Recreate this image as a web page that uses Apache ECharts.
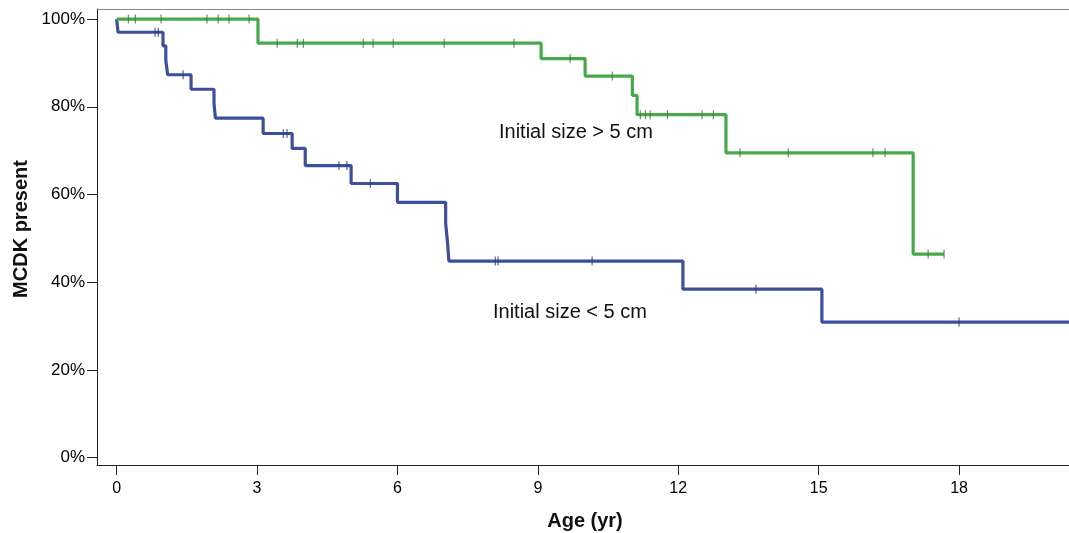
<!DOCTYPE html>
<html>
<head>
<meta charset="utf-8">
<script src="https://cdn.jsdelivr.net/npm/echarts@6/dist/echarts.min.js"></script>
<style>
html,body{margin:0;padding:0;background:#fff;}
#c{width:1069px;height:533px;}
</style>
</head>
<body>
<div id="c"></div>
<script>
// Kaplan-Meier data
const xTicks = [0, 3, 6, 9, 12, 15, 18];
const yTicks = [0, 20, 40, 60, 80, 100];

// Initial size > 5 cm (green)
const bigTimes = [0, 3.02, 9.07, 10.01, 11.02, 11.12, 13.02, 17.02, 17.68];
const bigSurv  = [100, 94.5, 91.0, 87.0, 82.6, 78.2, 69.5, 46.4, 46.4];
const bigCensor = [0.25, 0.4, 0.95, 1.93, 2.17, 2.4, 2.83, 3.43, 3.86, 3.99, 5.27, 5.48, 5.91, 7.0, 8.49,
                   9.69, 10.59, 11.19, 11.3, 11.4, 11.77, 12.51, 12.75, 13.32, 14.35, 16.16, 16.42, 17.34, 17.68];

// Initial size < 5 cm (blue)
const smallTimes = [0, 0.03, 0.99, 1.05, 1.09, 1.59, 2.08, 2.11, 3.13, 3.75, 4.03, 5.01, 6.0, 7.03, 7.07, 7.1, 12.1, 15.07, 20.6];
const smallSurv  = [100, 97.0, 93.9, 90.6, 87.3, 84.0, 80.8, 77.4, 73.9, 70.5, 66.6, 62.5, 58.2, 53.4, 49.1, 44.8, 38.4, 30.9, 30.9];
const smallCensor = [0.82, 0.89, 1.42, 3.56, 3.64, 4.75, 4.92, 5.42, 8.09, 8.15, 10.16, 13.66, 18.0];

const labels = ['Initial size > 5 cm', 'Initial size < 5 cm'];
const xName = 'Age (yr)';
const yName = 'MCDK present';

function stepValue(times, surv, t) {
  let v = surv[0];
  for (let i = 0; i < times.length; i++) { if (times[i] <= t) v = surv[i]; }
  return v;
}
const pairs = (a, b) => a.map((t, i) => [t, b[i]]);
const censorPts = (c, times, surv) => c.map(t => [t, stepValue(times, surv, t)]);

const green = '#48a94c', blue = '#3d4f9b';
const font = 'Liberation Sans, Arial, sans-serif';

const chart = echarts.init(document.getElementById('c'), null, {renderer: 'canvas'});
chart.setOption({
  animation: false,
  backgroundColor: '#fff',
  grid: {left: 97, right: 0, top: 9, bottom: 68, outerBoundsMode: 'none', containLabel: false},
  xAxis: [{
    type: 'value', min: -0.42, max: 20.35,
    axisLine: {show: true, onZero: false, lineStyle: {color: '#222', width: 1}},
    axisTick: {show: true, length: 10, customValues: xTicks, lineStyle: {color: '#222'}},
    axisLabel: {show: true, customValues: xTicks, color: '#000', fontSize: 16, fontFamily: font, margin: 16},
    splitLine: {show: false}
  }, {
    type: 'value', position: 'top', min: -0.42, max: 20.35,
    axisLine: {show: true, onZero: false, lineStyle: {color: '#888', width: 1}},
    axisTick: {show: false}, axisLabel: {show: false}, splitLine: {show: false}
  }],
  yAxis: {
    type: 'value', min: -1.7, max: 102.3,
    axisLine: {show: true, onZero: false, lineStyle: {color: '#222', width: 1}},
    axisTick: {show: true, length: 10, customValues: yTicks, lineStyle: {color: '#222'}},
    axisLabel: {show: true, customValues: yTicks, formatter: '{value}%', color: '#000', fontSize: 17, fontFamily: font, margin: 12},
    splitLine: {show: false}
  },
  series: [
    {type: 'line', step: 'end', data: pairs(bigTimes, bigSurv), showSymbol: false, symbol: 'none',
     lineStyle: {color: green, width: 3.2}, z: 3},
    {type: 'line', step: 'end', data: pairs(smallTimes, smallSurv), showSymbol: false, symbol: 'none',
     lineStyle: {color: blue, width: 3.2}, z: 2},
    {type: 'scatter', data: censorPts(bigCensor, bigTimes, bigSurv), symbol: 'rect', symbolSize: [1.2, 9],
     itemStyle: {color: '#2f7f34'}, z: 4},
    {type: 'scatter', data: censorPts(smallCensor, smallTimes, smallSurv), symbol: 'rect', symbolSize: [1.2, 9],
     itemStyle: {color: '#2c3a7a'}, z: 4}
  ],
  graphic: [
    {type: 'text', x: 499, y: 132, style: {text: labels[0], fill: '#111', font: '20px ' + font, verticalAlign: 'middle'}},
    {type: 'text', x: 493, y: 312, style: {text: labels[1], fill: '#111', font: '20px ' + font, verticalAlign: 'middle'}},
    {type: 'text', x: 585, y: 521, style: {text: xName, fill: '#111', font: 'bold 20px ' + font, align: 'center', verticalAlign: 'middle'}},
    {type: 'text', x: 21, y: 229, rotation: Math.PI / 2, style: {text: yName, fill: '#111', font: 'bold 20px ' + font, align: 'center', verticalAlign: 'middle'}}
  ]
});
</script>
</body>
</html>
